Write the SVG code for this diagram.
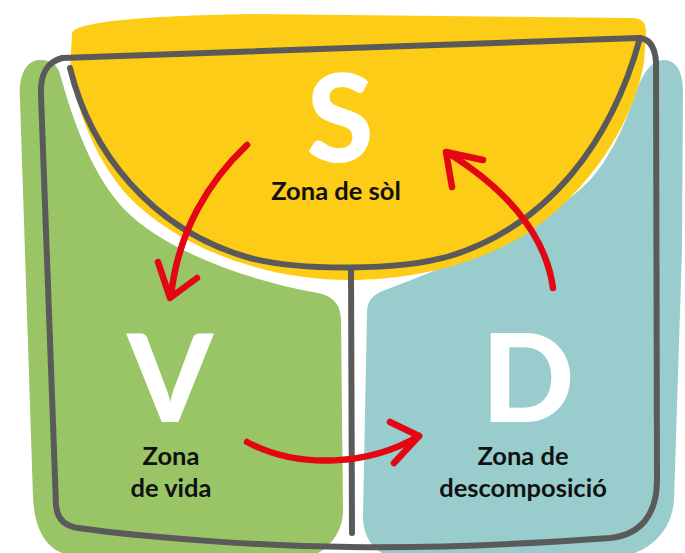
<svg xmlns="http://www.w3.org/2000/svg" width="685" height="553" viewBox="0 0 685 553">
<style>
.line{fill:none;stroke:#5a5a5a;stroke-width:6;stroke-linecap:round;stroke-linejoin:round}
.arrow{fill:none;stroke:#e30613;stroke-width:6.5;stroke-linecap:round;stroke-linejoin:round}
.big{font-family:Lato,"Open Sans",sans-serif;font-weight:900;font-size:122px;fill:#ffffff;text-anchor:middle}
.lbl{font-family:Lato,"Noto Sans",sans-serif;font-weight:700;font-size:25.5px;fill:#111111;text-anchor:middle}
</style>
<rect width="685" height="553" fill="#ffffff"/>
<g id="zone-v">
<path fill="#99c566" d="M20,100 C18,72 28,60 40,60 C52,60 58,66 60,74 C74,125 93,175 123,208 C163,250 245,280 318,293 C334,296 341,306 341,320 L343,510 C343,530 332,545 318,553 L62,553 C42,545 34,522 33,497 Z"/>
<text class="big" x="170" y="422">V</text>
<text class="lbl" x="171" y="465">Zona</text>
<text class="lbl" x="171" y="497">de vida</text>
</g>
<g id="zone-d">
<path fill="#99cdcd" d="M367,312 C367,300 374,294 385,290 C460,262 546,225 590,180 C610,158 625,125 635,95 C643,72 652,60 664,60 C676,60 683,72 683,90 L682,250 L674,500 C672,528 655,545 635,553 L382,553 C368,545 363,530 363,517 Z"/>
<text class="big" x="528" y="422">D</text>
<text class="lbl" x="523" y="465">Zona de</text>
<text class="lbl" x="523" y="497">descomposició</text>
</g>
<g id="zone-s">
<path fill="#fccc17" d="M72,34 C72,22 140,16 250,14 L632,18 C642,18 646,23 646,32 L644,62 C636,110 602,180 532,230 C480,265 410,280 350,280 C260,280 175,245 128,196 C98,162 80,120 70,72 Z"/>
<text class="big" x="340" y="162">S</text>
<text class="lbl" x="336" y="200">Zona de sòl</text>
</g>
<g id="frame">
<path class="line" d="M62,58 L638,38 C650,38 655,48 656,62 L657,480 C657,515 640,535 610,538 C500,546 420,548 350,547 C260,546 150,538 78,528 C64,526 57,518 56,505 L41,95 C40,72 48,62 62,58 Z"/>
<path class="line" d="M70,68 C90,150 150,230 250,258 C300,271 400,271 450,256 C550,225 612,140 640,38"/>
<path class="line" d="M351,268 L352,533"/>
</g>
<g id="connectors">
<path class="arrow" d="M247,145 C210,180 178,230 171,296"/>
<path class="arrow" d="M158,262 L170,298 L197,278"/>
<path class="arrow" d="M553,288 C545,230 500,185 448,153"/>
<path class="arrow" d="M452,187 L446,152 L483,160"/>
<path class="arrow" d="M247,442 C300,470 370,465 419,436"/>
<path class="arrow" d="M390,422 L419,436 L394,463"/>
</g>
</svg>
